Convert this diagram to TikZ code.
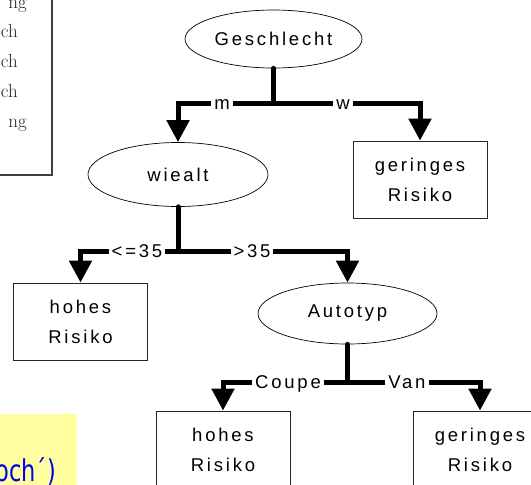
\documentclass[tikz,border=0pt]{standalone}
\usepackage{fontspec}
\usetikzlibrary{shapes.geometric,arrows.meta}
\newfontfamily\arialf[LetterSpace=15]{Liberation Sans}
\newfontfamily\bluef[FakeStretch=0.75]{DejaVu Sans}
\definecolor{paleyellow}{RGB}{255,255,160}
\definecolor{bluetext}{RGB}{0,0,240}
\begin{document}
\begin{tikzpicture}[x=1pt,y=-1pt,
  tfont/.style={font=\arialf\fontsize{18.5}{30}\selectfont},
  ell/.style={ellipse, draw, line width=0.7pt, inner sep=0pt, tfont},
  leaf/.style={rectangle, draw=black!85, line width=0.8pt, minimum width=134pt,
    minimum height=77pt, align=center, inner sep=0pt, tfont},
  conn/.style={line width=5pt, -{Triangle[width=22pt,length=22pt]}},
  stemline/.style={line width=5pt, line cap=round},
  lab/.style={fill=white, inner xsep=3pt, inner ysep=1pt, text height=13.5pt,
    text depth=0pt, tfont},
  tabtext/.style={font=\fontsize{19}{23}\selectfont, text=black!85, inner sep=0pt}
]
\useasboundingbox (0,0) rectangle (531,485);
\clip (0,0) rectangle (531,485);

% cropped table at top left
\draw[line width=1.5pt, black!75] (-20,-20) rectangle (52,175);
\node[tabtext, anchor=base east] (t1) at (27,8) {ng};
\node[tabtext, anchor=base east] (t2) at (18,37) {ch};
\node[tabtext, anchor=base east] (t3) at (18,67) {ch};
\node[tabtext, anchor=base east] (t4) at (18,97) {ch};
\node[tabtext, anchor=base east] (t5) at (27,127) {ng};

% yellow note at bottom left
\fill[paleyellow] (0,414) rectangle (77,485);
\node[anchor=base east, inner sep=0pt, text=bluetext,
  font=\bluef\fontsize{30}{34}\selectfont] (note) at (56,481) {och´)};

% tree nodes
\node[ell, minimum width=177pt, minimum height=58pt] (g) at (273.5,39) {Geschlecht};
\node[ell, minimum width=180pt, minimum height=64pt] (w) at (178,174.5) {wiealt};
\node[leaf] (r1) at (420,179.5) {geringes\\Risiko};
\node[leaf] (h1) at (80.5,321.5) {hohes\\Risiko};
\node[ell, minimum width=179pt, minimum height=61pt] (a) at (347.5,313.5) {Autotyp};
\node[leaf] (h2) at (223,449.5) {hohes\\Risiko};
\node[leaf] (r2) at (480,449.5) {geringes\\Risiko};

% connectors
\coordinate (gj) at (273.5,103);
\draw[stemline] (g.south) -- (gj);
\draw[conn] (gj) -| (w.north);
\draw[conn] (gj) -| (r1.north);
\node[lab] (lm) at (222,103) {m};
\node[lab] (lw) at (343,103) {w};

\coordinate (wj) at (178,251);
\draw[stemline] (w.south) -- (wj);
\draw[conn] (wj) -| (h1.north);
\draw[conn] (wj) -| (a.north);
\node[lab] (l1) at (137,251) {<=35};
\node[lab] (l2) at (252,251) {>35};

\coordinate (aj) at (347.5,382);
\draw[stemline] (a.south) -- (aj);
\draw[conn] (aj) -| (h2.north);
\draw[conn] (aj) -| (r2.north);
\node[lab] (l3) at (288,382) {Coupe};
\node[lab] (l4) at (407,382) {Van};
\end{tikzpicture}
\end{document}
